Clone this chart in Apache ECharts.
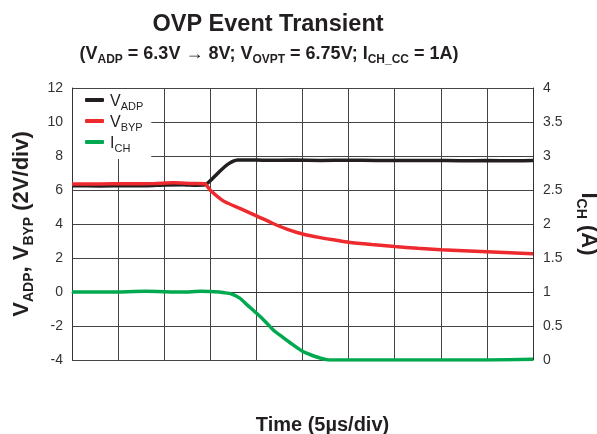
<!DOCTYPE html>
<html>
<head>
<meta charset="utf-8">
<style>
  html, body { margin: 0; padding: 0; background: #fff; }
  #chart { width: 597px; height: 434px; }
</style>
<script src="https://cdn.jsdelivr.net/npm/echarts@6/dist/echarts.min.js"></script>
</head>
<body>
<div id="chart"></div>
<script>
// Time base in microseconds (5 µs per division, 10 divisions)
const timeTicks = [0, 5, 10, 15, 20, 25, 30, 35, 40, 45, 50];
const voltTicks = [-4, -2, 0, 2, 4, 6, 8, 10, 12];
const ampTicks = [0, 0.5, 1, 1.5, 2, 2.5, 3, 3.5, 4];

// V_ADP (V)
const adpTime = [0, 3, 6, 8, 10, 12, 13.5, 14.4, 15, 15.5, 16, 16.5, 17, 17.5, 18, 19, 21, 24, 27, 30, 33, 36, 39, 42, 45, 48, 50];
const adpVolt = [6.25, 6.24, 6.26, 6.25, 6.3, 6.31, 6.28, 6.3, 6.55, 6.82, 7.09, 7.34, 7.55, 7.7, 7.76, 7.77, 7.75, 7.76, 7.74, 7.75, 7.74, 7.73, 7.74, 7.72, 7.73, 7.72, 7.73];

// V_BYP (V)
const bypTime = [0, 3, 6, 9, 11, 13, 14.4, 15, 16.4, 18.2, 20, 21.8, 23.3, 25, 26.9, 28.5, 30, 32.5, 35, 37.5, 40, 42.5, 45, 47.5, 50];
const bypVolt = [6.35, 6.36, 6.37, 6.38, 6.42, 6.38, 6.37, 5.98, 5.36, 4.92, 4.48, 4.03, 3.7, 3.41, 3.2, 3.06, 2.93, 2.79, 2.67, 2.57, 2.49, 2.43, 2.37, 2.31, 2.25];

// I_CH (A)
const chTime = [0, 4, 8, 12, 14, 16, 16.5, 17.2, 18.2, 19, 20, 21, 21.8, 22.8, 23.7, 25, 26, 26.9, 27.6, 30, 35, 40, 45, 50];
const chAmp = [1.0, 1.0, 1.01, 1.0, 1.01, 1.0, 0.99, 0.975, 0.91, 0.81, 0.69, 0.56, 0.445, 0.34, 0.25, 0.128, 0.07, 0.03, 0.005, 0.0, 0.0, 0.0, 0.0, 0.01];

const zip = (t, v) => t.map((x, i) => [x, v[i]]);

const ink = '#231f20';
const legendRich = {
  b: { fontSize: 16, color: ink, fontFamily: 'Liberation Sans', lineHeight: 20, verticalAlign: 'bottom' },
  s: { fontSize: 11, color: ink, fontFamily: 'Liberation Sans', lineHeight: 14, verticalAlign: 'bottom', padding: [0, 0, -2, 0] }
};
const legendLabels = {
  'V_ADP': '{b|V}{s|ADP}',
  'V_BYP': '{b|V}{s|BYP}',
  'I_CH': '{b|I}{s|CH}'
};
const axisNameRich = {
  b: { fontSize: 22, fontWeight: 'bold', color: ink, fontFamily: 'Liberation Sans', lineHeight: 26, verticalAlign: 'bottom' },
  s: { fontSize: 14, fontWeight: 'bold', color: ink, fontFamily: 'Liberation Sans', lineHeight: 16, verticalAlign: 'bottom', padding: [0, 0, -4, 0] }
};

const chart = echarts.init(document.getElementById('chart'));
chart.setOption({
  animation: false,
  backgroundColor: '#ffffff',
  textStyle: { fontFamily: 'Liberation Sans' },
  title: [
    {
      text: 'OVP Event Transient',
      left: 263, top: 8, textAlign: 'center',
      textStyle: { fontSize: 23.5, fontWeight: 'bold', color: ink, fontFamily: 'Liberation Sans' }
    },
    {
      text: '{b|(V}{s|ADP}{b| = 6.3V \u2192 8V; V}{s|OVPT}{b| = 6.75V; I}{s|CH_CC}{b| = 1A)}',
      left: 264, top: 36, textAlign: 'center',
      textStyle: {
        rich: {
          b: { fontSize: 18, fontWeight: 'bold', color: ink, fontFamily: 'Liberation Sans', lineHeight: 22, verticalAlign: 'bottom' },
          s: { fontSize: 12, fontWeight: 'bold', color: ink, fontFamily: 'Liberation Sans', lineHeight: 14, verticalAlign: 'bottom', padding: [0, 0, -3, 0] }
        }
      }
    }
  ],
  legend: {
    orient: 'vertical',
    left: 73, top: 89,
    padding: [5, 8, 5, 12],
    backgroundColor: '#ffffff',
    itemWidth: 19, itemHeight: 4, itemGap: 3,
    icon: 'roundRect',
    data: ['V_ADP', 'V_BYP', 'I_CH'],
    formatter: name => legendLabels[name],
    textStyle: { rich: legendRich, padding: [0, 0, 0, 1] }
  },
  grid: { left: 72, right: 64, top: 88, bottom: 74, outerBoundsMode: 'none', containLabel: false },
  xAxis: {
    type: 'value',
    min: timeTicks[0], max: timeTicks[timeTicks.length - 1], interval: 5,
    name: 'Time (5\u00b5s/div)',
    nameLocation: 'middle', nameGap: 55,
    nameTextStyle: { fontSize: 20, fontWeight: 'bold', color: ink, padding: [0, 0, 0, 40] },
    axisLine: { show: true, lineStyle: { color: '#333', width: 1 } },
    axisTick: { show: false },
    axisLabel: { show: false },
    splitLine: { show: true, lineStyle: { color: '#444', width: 1 } }
  },
  yAxis: [
    {
      type: 'value',
      min: voltTicks[0], max: voltTicks[voltTicks.length - 1], interval: 2,
      position: 'left',
      name: '{b|V}{s|ADP}{b|, V}{s|BYP}{b| (2V/div)}',
      nameLocation: 'middle', nameRotate: 90, nameGap: 38,
      nameTextStyle: { rich: axisNameRich },
      axisLine: { show: true, lineStyle: { color: '#333', width: 1 } },
      axisTick: { show: false },
      axisLabel: { fontSize: 14, color: '#333', margin: 9 },
      splitLine: { show: true, lineStyle: { color: '#444', width: 1 } }
    },
    {
      type: 'value',
      min: ampTicks[0], max: ampTicks[ampTicks.length - 1], interval: 0.5,
      position: 'right',
      name: '{b|I}{s|CH}{b| (A)}',
      nameLocation: 'middle', nameRotate: -90, nameGap: 40,
      nameTextStyle: { rich: axisNameRich },
      axisLine: { show: true, lineStyle: { color: '#333', width: 1 } },
      axisTick: { show: false },
      axisLabel: { fontSize: 14, color: '#333', margin: 10 },
      splitLine: { show: false }
    }
  ],
  series: [
    {
      name: 'V_ADP', type: 'line', yAxisIndex: 0,
      data: zip(adpTime, adpVolt),
      showSymbol: false, smooth: 0.2,
      lineStyle: { color: ink, width: 3.5 },
      itemStyle: { color: ink }
    },
    {
      name: 'V_BYP', type: 'line', yAxisIndex: 0,
      data: zip(bypTime, bypVolt),
      showSymbol: false, smooth: 0.2,
      lineStyle: { color: '#ee2a2e', width: 3.5 },
      itemStyle: { color: '#ee2a2e' }
    },
    {
      name: 'I_CH', type: 'line', yAxisIndex: 1,
      data: zip(chTime, chAmp),
      showSymbol: false, smooth: 0.2,
      lineStyle: { color: '#00a94f', width: 3.5 },
      itemStyle: { color: '#00a94f' }
    }
  ]
});
</script>
</body>
</html>
